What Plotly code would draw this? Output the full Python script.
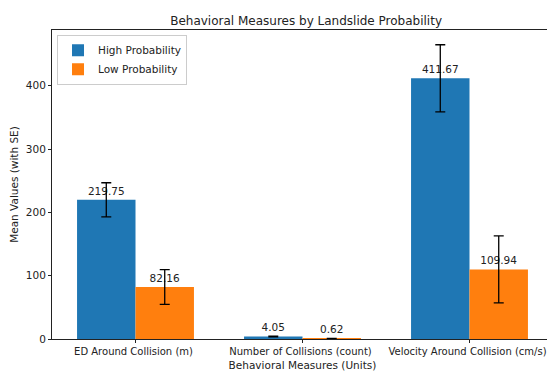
import plotly.graph_objects as go

categories = ["ED Around Collision (m)", "Number of Collisions (count)", "Velocity Around Collision (cm/s)"]
high_means = [219.75, 4.05, 411.67]
high_se = [27.0, 0.6, 53.0]
low_means = [82.16, 0.62, 109.94]
low_se = [27.5, 0.3, 53.0]
yticks = [0, 100, 200, 300, 400]

xpos = list(range(len(categories)))
w = 0.35
font = "DejaVu Sans"

fig = go.Figure()
for name, vals, se, color, off in [
    ("High Probability", high_means, high_se, "#1f77b4", -w),
    ("Low Probability", low_means, low_se, "#ff7f0e", 0.0),
]:
    fig.add_trace(go.Bar(
        x=xpos, y=vals, width=w, offset=off, name=name,
        marker=dict(color=color, line=dict(width=0)),
        error_y=dict(type="data", array=se, visible=True, color="black", thickness=1.3, width=5),
        text=[f"{v:.2f}" for v in vals], textposition="outside",
        textfont=dict(family=font, size=10.5, color="#222"), cliponaxis=False,
    ))

fig.update_layout(
    width=547, height=364,
    margin=dict(l=44, r=2, t=22, b=33),
    paper_bgcolor="white", plot_bgcolor="white",
    font=dict(family=font, size=10.5, color="#222"),
    title=dict(text="Behavioral Measures by Landslide Probability", x=0.545, xanchor="center",
               y=0.965, yanchor="middle", font=dict(size=12, family=font, color="#222")),
    showlegend=True,
    legend=dict(x=0.01, y=0.985, xanchor="left", yanchor="top", bgcolor="rgba(255,255,255,0.8)",
                bordercolor="#ccc", borderwidth=1, font=dict(size=10.5, family=font), tracegroupgap=0,
                itemwidth=30),
    xaxis=dict(range=[-0.5, 2.5], tickvals=xpos, ticktext=categories, showline=True, mirror=True,
               linecolor="#222", linewidth=1, ticks="outside", ticklen=3, tickcolor="#222",
               showgrid=False, zeroline=False, tickfont=dict(size=10), ticklabelshift=-2,
               title=dict(text="Behavioral Measures (Units)", standoff=5, font=dict(size=10.5))),
    yaxis=dict(range=[0, 488], tickvals=yticks, showline=True, mirror=True, linecolor="#222",
               linewidth=1, ticks="outside", ticklen=3, tickcolor="#222", showgrid=False,
               zeroline=False, title=dict(text="Mean Values (with SE)", standoff=6, font=dict(size=10.5))),
)

fig.write_html("out.html")
